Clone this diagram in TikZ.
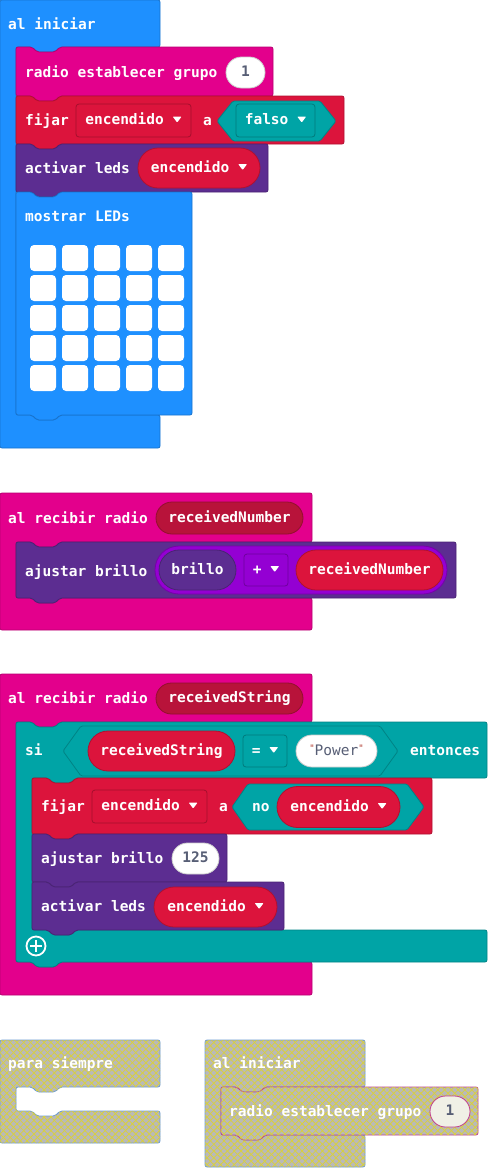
\documentclass[tikz,border=0pt]{standalone}
\usepackage{fontspec}
\usetikzlibrary{shapes.misc,patterns.meta}
\newfontfamily\blockfont{DejaVu Sans Mono}
\definecolor{ledblue}{HTML}{1E90FF}
\definecolor{radiopink}{HTML}{E3008C}
\definecolor{varred}{HTML}{DC143C}
\definecolor{paramred}{HTML}{B8133A}
\definecolor{ledpurple}{HTML}{5C2D91}
\definecolor{logicteal}{HTML}{00A4A6}
\definecolor{mathviolet}{HTML}{9400D3}
\definecolor{valgray}{HTML}{575E75}
\definecolor{quotered}{HTML}{B03A2E}
\definecolor{offgray}{HTML}{B9B9B9}
\definecolor{offyellow}{HTML}{D8D040}
\definecolor{offblue}{HTML}{6C9BD2}
\definecolor{offpink}{HTML}{C0408C}
\definecolor{offwhite}{HTML}{F0F0E6}
\newcommand{\drop}{\ \tikz[baseline=0pt]\fill[white,rounded corners=0.8pt] (0pt,8pt) -- (9pt,8pt) -- (4.5pt,2pt) -- cycle;}
\newcommand{\stmt}[5]{% style, left, top, right, bottom
  \draw[#1] (#2,#3) -- (#2+16,#3) [notchr] -- (#4,#3) -- (#4,#5) -- (#2+44,#5) [notchl] -- (#2,#5) -- cycle;}
\tikzset{
  notchr/.style={insert path={-- ++(5,5) -- ++(18,0) -- ++(5,-5)}},
  notchl/.style={insert path={-- ++(-5,5) -- ++(-18,0) -- ++(-5,-5)}},
  block/.style={fill=#1, draw=#1!80!black, line width=0.8pt, rounded corners=2pt},
  offblock/.style={fill=offgray, draw=#1, line width=0.8pt, rounded corners=2pt,
    postaction={pattern={Lines[angle=45,distance=4.8pt,line width=0.8pt]}, pattern color=offyellow},
    postaction={pattern={Lines[angle=-45,distance=4.8pt,line width=0.8pt]}, pattern color=offyellow}},
  blocktext/.style={font=\blockfont\bfseries\fontsize{14.5}{16}\selectfont, text=white,
    inner sep=0pt, text height=8pt, text depth=0pt},
  lbl/.style={blocktext, anchor=west},
  oval/.style={blocktext, rounded rectangle, fill=#1, draw=#1!80!black, line width=0.8pt},
  dropbox/.style={blocktext, rectangle, rounded corners=3pt, fill=#1, draw=#1!75!black, line width=0.8pt},
  hexa/.style={fill=#1, draw=#1!80!black, line width=0.8pt, rounded corners=1.5pt},
  led/.style={fill=white, rounded corners=4pt}
}
\begin{document}
\begin{tikzpicture}[x=1pt,y=-1pt]
\useasboundingbox (0,0) rectangle (488,1168);
% al iniciar
\draw[block=ledblue] (0,0) -- (160,0) -- (160,47) -- (60,47) [notchl] -- (16,47) -- (16,415)
  -- (32,415) [notchr] -- (160,415) -- (160,448) -- (0,448) -- cycle;
\node[lbl] (start) at (8,25) {al iniciar};
\stmt{block=radiopink}{16}{47}{273}{96}
\node[lbl] (group) at (25,73) {radio establecer grupo};
\node[oval=white, text=valgray, minimum width=39pt, minimum height=31pt] (groupnum) at (245.5,72.5) {1};
\stmt{block=varred}{16}{96}{344}{144}
\node[lbl] (set) at (25,121) {fijar};
\node[dropbox=varred, minimum width=115pt, minimum height=33pt] (setvar) at (133.5,120.5) {encendido\drop};
\node[lbl] (seta) at (203,121) {a};
\draw[hexa=logicteal] (217,121) -- (233,101) -- (320,101) -- (336,121) -- (320,141) -- (233,141) -- cycle;
\node[dropbox=logicteal, minimum width=79pt, minimum height=33pt] (false) at (275.5,120.5) {falso\drop};
\stmt{block=ledpurple}{16}{144}{268}{192}
\node[lbl] (leds) at (25,169) {activar leds};
\node[oval=varred, minimum width=122pt, minimum height=40pt] (ledsvar) at (199,168) {encendido\drop};
\stmt{block=ledblue}{16}{192}{192}{415}
\node[lbl] (show) at (25,217) {mostrar LEDs};
% the 5x5 grid
\foreach \i in {0,...,4}
  \foreach \j in {0,...,4}
    \fill[led] (30+32*\i,245+30*\j) rectangle ++(26,26);
% al recibir radio receivedNumber
\draw[block=radiopink] (0,493) -- (312,493) -- (312,542) -- (60,542) [notchl] -- (16,542) -- (16,598)
  -- (32,598) [notchr] -- (312,598) -- (312,630) -- (0,630) -- cycle;
\node[lbl] (recvnum) at (8,519) {al recibir radio};
\node[oval=paramred, minimum width=147pt, minimum height=32pt] (numparam) at (229.5,518) {receivedNumber};
\stmt{block=ledpurple}{16}{542}{456}{598}
\node[lbl] (bright) at (25,572) {ajustar brillo};
\node[oval=mathviolet, minimum width=292pt, minimum height=48pt] (sum) at (301,570) {};
\node[oval=ledpurple, minimum width=77pt, minimum height=40pt] (brillo) at (197.5,570) {brillo};
\node[dropbox=mathviolet, minimum width=44pt, minimum height=32pt] (plus) at (266,570) {+\drop};
\node[oval=varred, minimum width=147pt, minimum height=40pt] (numvar) at (369.5,570) {receivedNumber};
% al recibir radio receivedString
\draw[block=radiopink] (0,674) -- (312,674) -- (312,722) -- (60,722) [notchl] -- (16,722) -- (16,962)
  -- (32,962) [notchr] -- (312,962) -- (312,995) -- (0,995) -- cycle;
\node[lbl] (recvstr) at (8,699) {al recibir radio};
\node[oval=paramred, minimum width=147pt, minimum height=31pt] (strparam) at (229.5,698.5) {receivedString};
\draw[block=logicteal] (16,722) -- (32,722) [notchr] -- (487,722) -- (487,778) -- (76,778) [notchl]
  -- (32,778) -- (32,930) -- (48,930) [notchr] -- (487,930) -- (487,962) -- (60,962) [notchl] -- (16,962) -- cycle;
\node[lbl] (if) at (25,751) {si};
\draw[hexa=logicteal] (63,751) -- (81,726) -- (380,726) -- (398,751) -- (380,776) -- (81,776) -- cycle;
\node[oval=varred, minimum width=147pt, minimum height=40pt] (strvar) at (161.5,751) {receivedString};
\node[dropbox=logicteal, minimum width=44pt, minimum height=32pt] (equal) at (265,751) {=\drop};
\node[oval=white, text=valgray, font=\blockfont\fontsize{14.5}{16}\selectfont, minimum width=81pt, minimum height=32pt] (power) at (336.5,751)
  {\raisebox{4pt}{\color{quotered}\fontsize{9}{9}\selectfont"}Power\raisebox{4pt}{\color{quotered}\fontsize{9}{9}\selectfont"}};
\node[lbl] (then) at (410,751) {entonces};
\stmt{block=varred}{32}{778}{432}{834}
\node[lbl] (set2) at (41,807) {fijar};
\node[dropbox=varred, minimum width=115pt, minimum height=33pt] (setvar2) at (149.5,806.5) {encendido\drop};
\node[lbl] (seta2) at (219,807) {a};
\draw[hexa=logicteal] (232,807) -- (248,784) -- (407,784) -- (424,807) -- (407,830) -- (248,830) -- cycle;
\node[lbl] (not) at (252,807) {no};
\node[oval=varred, minimum width=123pt, minimum height=41pt] (notvar) at (338.5,807) {encendido\drop};
\stmt{block=ledpurple}{32}{834}{227}{882}
\node[lbl] (bright2) at (41,859) {ajustar brillo};
\node[oval=white, text=valgray, minimum width=47pt, minimum height=31pt] (level) at (195.5,858.5) {125};
\stmt{block=ledpurple}{32}{882}{284}{930}
\node[lbl] (leds2) at (41,907) {activar leds};
\node[oval=varred, minimum width=123pt, minimum height=40pt] (ledsvar2) at (215.5,907) {encendido\drop};
% plus button
\draw[white, line width=1.8pt] (36,946) circle (9.5pt);
\draw[white, line width=2.6pt] (30,946) -- (42,946) (36,940) -- (36,952);
% disabled blocks
\draw[offblock=offblue] (0,1040) -- (160,1040) -- (160,1087) -- (60,1087) [notchl] -- (16,1087) -- (16,1111)
  -- (32,1111) [notchr] -- (160,1111) -- (160,1143) -- (0,1143) -- cycle;
\node[lbl] (forever) at (8,1064) {para siempre};
\draw[offblock=offblue] (205,1040) -- (365,1040) -- (365,1087) -- (265,1087) [notchl] -- (221,1087) -- (221,1135)
  -- (237,1135) [notchr] -- (365,1135) -- (365,1167) -- (205,1167) -- cycle;
\node[lbl] (start2) at (213,1064) {al iniciar};
\stmt{offblock=offpink}{221}{1087}{478}{1135}
\node[lbl] (group2) at (229,1112) {radio establecer grupo};
\node[oval=offwhite, draw=offpink, text=valgray, minimum width=40pt, minimum height=31pt] (groupnum2) at (450,1111.5) {1};
\end{tikzpicture}
\end{document}
